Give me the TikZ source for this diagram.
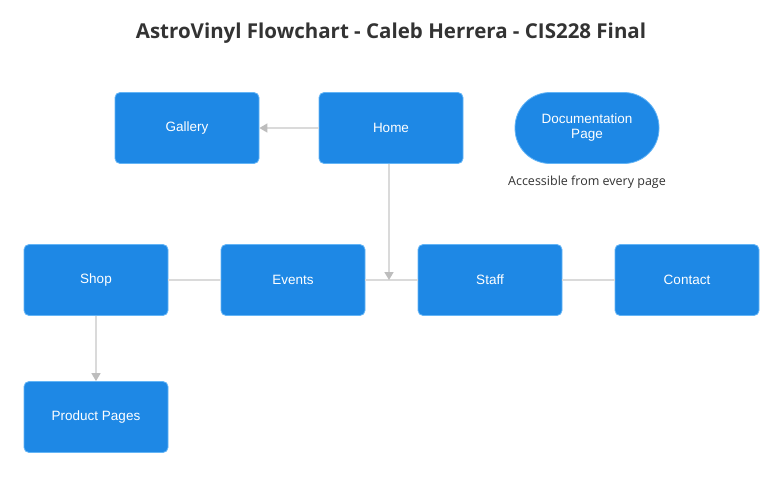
\documentclass[tikz,border=0pt]{standalone}
\usepackage{fontspec}
\setmainfont{Liberation Sans}
\newfontfamily\titlefont{Open Sans}
\newfontfamily\capfont{Open Sans}
\usetikzlibrary{arrows.meta}
\definecolor{boxblue}{HTML}{1E88E5}
\definecolor{boxedge}{HTML}{64B5F6}
\definecolor{linegray}{HTML}{DADADA}
\definecolor{tipgray}{HTML}{BDBDBD}
\tikzset{
  pagebox/.style={draw=boxedge, line width=0.8pt, fill=boxblue, rounded corners=5pt,
    minimum width=144pt, minimum height=71pt, inner sep=0pt, text=white,
    font=\fontsize{13.5pt}{15pt}\selectfont, align=center},
  stadium/.style={pagebox, rounded corners=35pt},
  conn/.style={draw=linegray, line width=1.6pt},
  arr/.style={-{Triangle[width=9pt,length=8pt,fill=tipgray,color=tipgray]}},
}
\begin{document}
\begin{tikzpicture}[x=1pt,y=-1pt]
\useasboundingbox (0,0) rectangle (778,480);
\fill[white] (0,0) rectangle (778,480);
\node[font=\titlefont\bfseries\fontsize{20.5pt}{22pt}\selectfont, text=black!80] (title) at (391,33) {AstroVinyl Flowchart - Caleb Herrera - CIS228 Final};
\node[pagebox] (gallery) at (187,128) {Gallery};
\node[pagebox] (home) at (391,128) {Home};
\node[stadium] (doc) at (587,128) {Documentation\\Page};
\node[font=\capfont\fontsize{12.5pt}{14pt}\selectfont, text=black!80] (note) at (587,182) {Accessible from every page};
\node[pagebox] (shop) at (96,280) {Shop};
\node[pagebox] (events) at (293,280) {Events};
\node[pagebox] (staff) at (490,280) {Staff};
\node[pagebox] (contact) at (687,280) {Contact};
\node[pagebox] (product) at (96,417) {Product Pages};
\coordinate (j) at (389,280);
\draw[conn] (shop.east) -- (events.west);
\draw[conn] (events.east) -- (staff.west);
\draw[conn] (staff.east) -- (contact.west);
\draw[conn,arr] (home.west) -- (gallery.east);
\draw[conn,arr] (j |- home.south) -- (j);
\draw[conn,arr] (shop.south) -- (product.north);
\end{tikzpicture}
\end{document}
